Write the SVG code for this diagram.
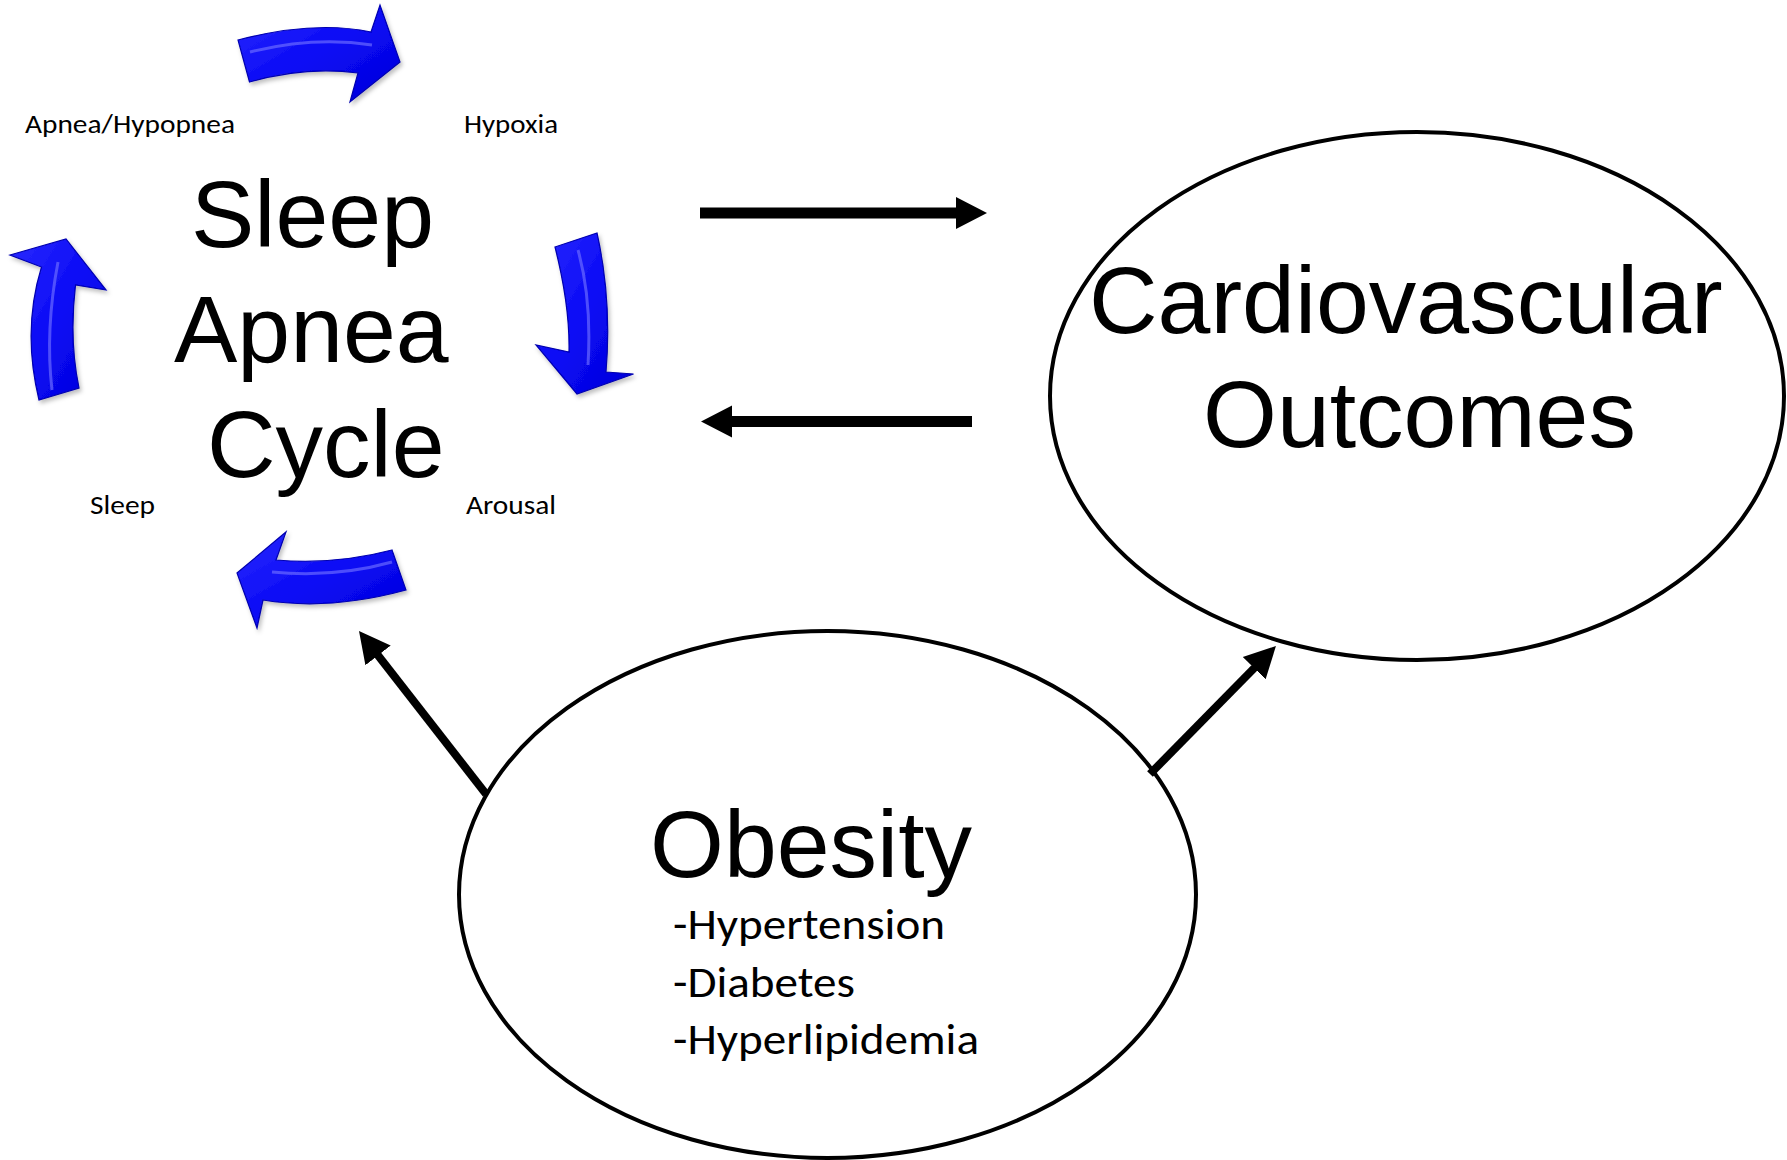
<svg xmlns="http://www.w3.org/2000/svg" width="1787" height="1160" viewBox="0 0 1787 1160">
<style>
.big{font-family:"Liberation Sans",Arial,sans-serif;font-size:95px;fill:#000}
.lab{font-family:Carlito,"Open Sans","Noto Sans",sans-serif;font-size:27px;fill:#000}
.sub{font-family:Carlito,"Open Sans","Noto Sans",sans-serif;font-size:44px;fill:#000}
.oval{fill:#fff;stroke:#000;stroke-width:4}
.cyc{fill:url(#blue);stroke:#0000b0;stroke-width:1.2;filter:url(#sh)}
.hl{fill:none;stroke:#6a6aff;stroke-width:3;opacity:.7}
.con{stroke:#000;fill:none;marker-end:url(#ah)}
</style>
<defs>
<linearGradient id="blue" x1="0" y1="0" x2="1" y2="1">
<stop offset="0" stop-color="#2a2aff"/>
<stop offset="0.5" stop-color="#0a0af5"/>
<stop offset="1" stop-color="#0000d8"/>
</linearGradient>
<filter id="sh" x="-20%" y="-20%" width="140%" height="140%">
<feDropShadow dx="2" dy="3" stdDeviation="2" flood-color="#000" flood-opacity="0.25"/>
</filter>
<marker id="ah" markerUnits="userSpaceOnUse" markerWidth="32" markerHeight="34" refX="4" refY="16" orient="auto" viewBox="0 0 32 32">
<path d="M0,0 L31,16 L0,32 Z" fill="#000"/>
</marker>
</defs>
<rect width="1787" height="1160" fill="#fff"/>

<g id="sleep-apnea-cycle">
<path class="cyc" d="M238,40 Q314,20 371,32 L380,5 L400,62 L350,102 L358,73 Q306,66 249.5,82 Z"/>
<path class="hl" d="M250,52 Q314,36 372,45"/>
<path class="cyc" d="M555,247 L597,233 Q612,300 606,372 L633.5,374 L577,394 L536,345 L569,352 Q570,306 555,247 Z"/>
<path class="hl" d="M578,250 Q592,300 588,365"/>
<path class="cyc" d="M406,590 Q329,611 263,600 L257,628 L237,573 L286,532 L276,560 Q335,565 392,550 Z"/>
<path class="hl" d="M392,562 Q335,578 272,572"/>
<path class="cyc" d="M39,400 Q22,330 41.5,267 L10,255 L66,239 L106,290 L75.5,285 Q69,340 79,388 Z"/>
<path class="hl" d="M52,390 Q45,330 58,262"/>
<text class="lab" x="25" y="133" textLength="210" lengthAdjust="spacingAndGlyphs">Apnea/Hypopnea</text>
<text class="lab" x="464" y="133" textLength="94" lengthAdjust="spacingAndGlyphs">Hypoxia</text>
<text class="lab" x="90" y="514" textLength="65" lengthAdjust="spacingAndGlyphs">Sleep</text>
<text class="lab" x="466" y="514" textLength="90" lengthAdjust="spacingAndGlyphs">Arousal</text>
<text class="big" x="191" y="247">Sleep</text>
<text class="big" x="174" y="362">Apnea</text>
<text class="big" x="207" y="477">Cycle</text>
</g>

<g id="cardiovascular-outcomes">
<ellipse class="oval" cx="1417" cy="396" rx="367" ry="264"/>
<text class="big" x="1089" y="333">Cardiovascular</text>
<text class="big" x="1203" y="447">Outcomes</text>
</g>

<g id="obesity">
<ellipse class="oval" cx="827.5" cy="894.5" rx="368.5" ry="263.5"/>
<text class="big" x="650" y="877">Obesity</text>
<text class="sub" x="673" y="939" textLength="272" lengthAdjust="spacingAndGlyphs">-Hypertension</text>
<text class="sub" x="673" y="997" textLength="182" lengthAdjust="spacingAndGlyphs">-Diabetes</text>
<text class="sub" x="673" y="1054" textLength="306" lengthAdjust="spacingAndGlyphs">-Hyperlipidemia</text>
</g>

<g id="connectors">
<line class="con" x1="700" y1="213" x2="960" y2="213" stroke-width="11"/>
<line class="con" x1="972" y1="421.5" x2="728" y2="421.5" stroke-width="11"/>
<line class="con" x1="486" y1="794" x2="375.6" y2="652.3" stroke-width="8"/>
<line class="con" x1="1150" y1="774" x2="1257" y2="665.3" stroke-width="8"/>
</g>
</svg>
